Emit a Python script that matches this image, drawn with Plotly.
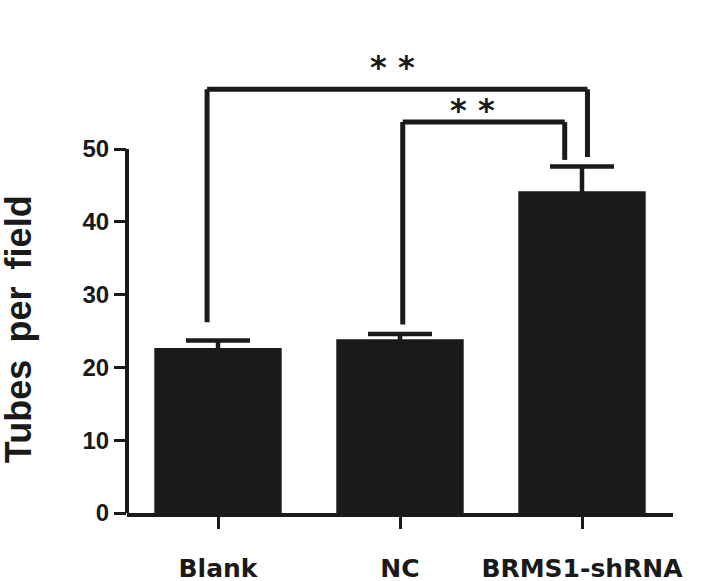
import plotly.graph_objects as go

categories = ["Blank", "NC", "BRMS1-shRNA"]
means = [22.65, 23.85, 44.2]
errors = [1.05, 0.75, 3.4]
y_ticks = [0, 10, 20, 30, 40, 50]

# significance brackets: (x_left, x_right, y_top, y_left_end, y_right_end)
bracket_a = [-0.06, 2.03, 58.2, 26.2, 48.9]
bracket_b = [1.015, 1.905, 53.7, 25.9, 48.5]
star_labels = ["* *", "* *"]
star_x = [0.96, 1.40]
star_y = [61.3, 55.4]

dark = "#1a1a1a"

fig = go.Figure()
fig.add_trace(go.Bar(
    x=[0, 1, 2], y=means, width=0.7,
    marker=dict(color=dark, line=dict(width=0)),
    error_y=dict(type="data", array=errors, symmetric=True,
                 color=dark, thickness=4.5, width=32),
))

shapes = []
for xl, xr, yt, yl, yr in [bracket_a, bracket_b]:
    for (x0, y0, x1, y1) in [(xl, yl, xl, yt), (xl, yt, xr, yt), (xr, yt, xr, yr)]:
        shapes.append(dict(type="line", xref="x", yref="y", x0=x0, y0=y0, x1=x1, y1=y1,
                           line=dict(color=dark, width=5)))

# y axis line (0..50 only)
shapes.append(dict(type="line", xref="paper", yref="y", x0=0, x1=0, y0=0, y1=max(y_ticks),
                   line=dict(color=dark, width=4)))

ann = []
for lab, sx, sy in zip(star_labels, star_x, star_y):
    ann.append(dict(x=sx, y=sy, xref="x", yref="y", text=lab, showarrow=False,
                    font=dict(family="DejaVu Sans", size=32, color=dark, weight="bold"),
                    yanchor="middle"))
ann.append(dict(x=-0.1985, y=25.2, xref="paper", yref="y", text="Tubes\u2009 per\u2009 field",
                textangle=-90, showarrow=False, xanchor="center", yanchor="middle",
                font=dict(family="Liberation Sans", size=36, color=dark, weight="bold")))

fig.update_layout(
    width=708, height=581,
    margin=dict(l=127, r=35, t=61, b=68, autoexpand=False),
    plot_bgcolor="white", paper_bgcolor="white",
    showlegend=False,
    shapes=shapes,
    annotations=ann,
)
fig.update_xaxes(
    range=[-0.5, 2.5], tickvals=[0, 1, 2], ticktext=categories,
    showline=True, linecolor=dark, linewidth=4,
    ticks="outside", ticklen=12, tickwidth=3, tickcolor=dark,
    showgrid=False, zeroline=False, automargin=False,
    tickfont=dict(family="DejaVu Sans", size=25, color=dark, weight="bold"),
    ticklabelstandoff=18,
)
fig.update_yaxes(
    range=[0, 452 / 7.28], tickvals=y_ticks,
    showline=False, showgrid=False, zeroline=False, automargin=False,
    ticks="outside", ticklen=12, tickwidth=3, tickcolor=dark,
    tickfont=dict(family="Liberation Sans", size=24, color=dark, weight="bold"),
)

fig.write_html("out.html", config={"displayModeBar": False},
               post_script="document.body.style.margin='0px';document.body.style.overflow='hidden';")
